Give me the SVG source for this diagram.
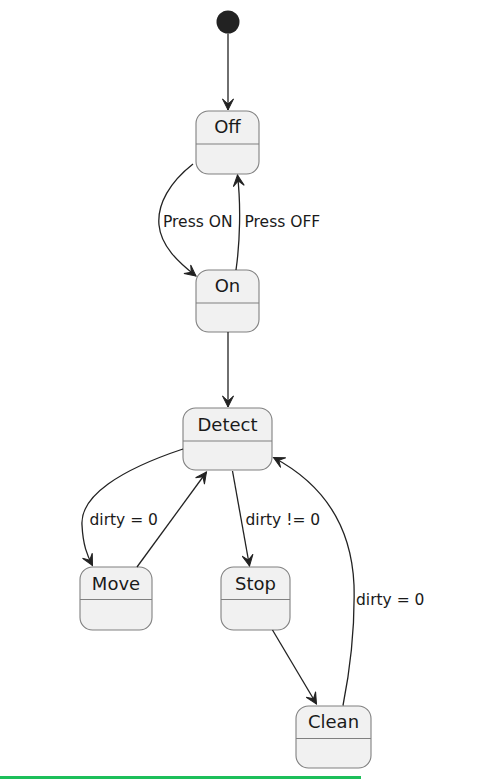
<svg xmlns="http://www.w3.org/2000/svg" width="478" height="779" viewBox="0 0 478 779">
<style>
.st rect{fill:#F1F1F1;stroke:#808080;stroke-width:1.1}
.st line{stroke:#808080;stroke-width:1.1}
.st text{font-family:"DejaVu Sans",sans-serif;font-size:18px;fill:#1a1a1a;text-anchor:middle}
.edges path,.edges line{fill:none;stroke:#222;stroke-width:1.3;marker-end:url(#arr)}
.lbl{font-family:"DejaVu Sans",sans-serif;font-size:15.5px;fill:#1a1a1a}
</style>
<defs>
<marker id="arr" markerUnits="userSpaceOnUse" viewBox="-12 -6 13 12" refX="0" refY="0" markerWidth="13" markerHeight="12" orient="auto">
<path d="M0,0 L-11,-5.5 L-6,0 L-11,5.5 Z" fill="#222" stroke="#222" stroke-width="1" stroke-linejoin="miter"/>
</marker>
</defs>
<rect width="478" height="779" fill="#ffffff"/>
<g id="start"><circle cx="228" cy="22" r="11.5" fill="#222"/></g>
<g id="Off" class="st"><rect x="196" y="111" width="63" height="63" rx="12.5"/><line x1="196" y1="144" x2="259" y2="144"/><text x="227.5" y="133">Off</text></g>
<g id="On" class="st"><rect x="196" y="270" width="63" height="62" rx="12.5"/><line x1="196" y1="303" x2="259" y2="303"/><text x="227.5" y="292">On</text></g>
<g id="Detect" class="st"><rect x="183" y="408" width="89" height="62" rx="12.5"/><line x1="183" y1="441" x2="272" y2="441"/><text x="227.5" y="431">Detect</text></g>
<g id="Move" class="st"><rect x="80" y="567" width="72" height="63" rx="12.5"/><line x1="80" y1="599.5" x2="152" y2="599.5"/><text x="116" y="589.5">Move</text></g>
<g id="Stop" class="st"><rect x="221" y="567" width="69" height="63" rx="12.5"/><line x1="221" y1="599.5" x2="290" y2="599.5"/><text x="255.5" y="589.5">Stop</text></g>
<g id="Clean" class="st"><rect x="296" y="706" width="75" height="62" rx="12.5"/><line x1="296" y1="738.5" x2="371" y2="738.5"/><text x="333.5" y="728">Clean</text></g>
<g class="edges">
<line x1="228" y1="33.5" x2="228" y2="110"/>
<path d="M193,164 C170,182 157,204 159,225 C161,246 178,262 196,276"/>
<path d="M236,270 C240,242 241,205 237.5,175"/>
<line x1="228" y1="332" x2="228" y2="407"/>
<path d="M183,449 C120,470 80,496 82,525 C83,545 87,555 92.5,565.5"/>
<line x1="137" y1="567" x2="206.5" y2="472"/>
<line x1="232.5" y1="471" x2="249.5" y2="566"/>
<line x1="272.5" y1="630" x2="316.5" y2="704"/>
<path d="M343,705.5 C351,665 355,625 354,585 C351,515 312,478 273.5,457.5"/>
</g>
<g id="labels">
<text class="lbl" x="163" y="227">Press ON</text>
<text class="lbl" x="244.5" y="227">Press OFF</text>
<text class="lbl" x="89.5" y="524.5">dirty = 0</text>
<text class="lbl" x="245.5" y="524.5">dirty != 0</text>
<text class="lbl" x="356" y="604.5">dirty = 0</text>
</g>
<rect x="0" y="776" width="361" height="3" fill="#1DBF5A"/>
</svg>
